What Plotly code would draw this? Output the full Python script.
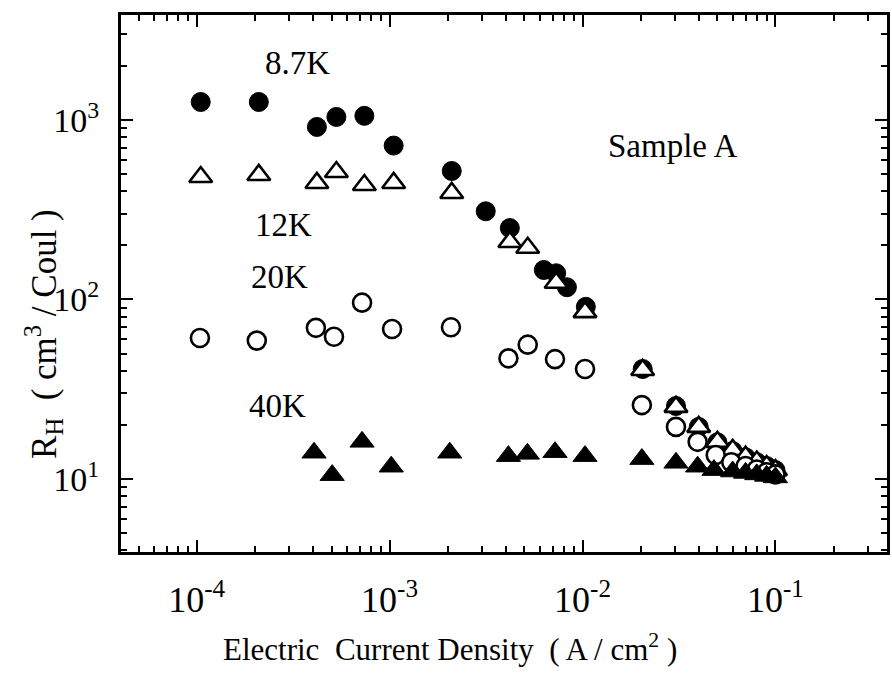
import plotly.graph_objects as go

# ---- data ----
J_87K = [1.05e-4, 2.1e-4, 4.2e-4, 5.3e-4, 7.4e-4, 1.05e-3, 2.1e-3, 3.15e-3, 4.2e-3, 6.3e-3,
         7.3e-3, 8.3e-3, 1.04e-2, 2.05e-2, 3.05e-2, 4.0e-2, 5.0e-2, 6.0e-2, 7.0e-2, 8.0e-2,
         9.0e-2, 1.0e-1]
R_87K = [1260, 1260, 915, 1040, 1055, 720, 520, 310, 250, 146,
         140, 117, 91, 41, 25.5, 19.5, 16, 14.3, 13.2, 12.4,
         11.8, 11.2]

J_12K = [1.05e-4, 2.1e-4, 4.2e-4, 5.3e-4, 7.4e-4, 1.05e-3, 2.1e-3, 4.2e-3, 5.2e-3, 7.3e-3,
         1.03e-2, 2.05e-2, 3.05e-2, 4.0e-2, 5.0e-2, 6.0e-2, 7.0e-2, 8.0e-2, 9.0e-2, 1.0e-1]
R_12K = [481, 494, 446, 513, 434, 446, 392, 209, 194, 124,
         85, 40.5, 25.2, 19.5, 16.1, 14.5, 13.3, 12.5, 11.8, 11.2]

J_20K = [1.04e-4, 2.05e-4, 4.15e-4, 5.15e-4, 7.2e-4, 1.03e-3, 2.08e-3, 4.13e-3, 5.2e-3, 7.2e-3,
         1.03e-2, 2.03e-2, 3.05e-2, 3.95e-2, 4.9e-2, 5.9e-2, 7.0e-2, 8.0e-2, 9.0e-2, 1.0e-1]
R_20K = [61, 59, 69.5, 62, 96, 68.5, 70, 47, 56, 46.5,
         41, 25.8, 19.5, 16.1, 13.6, 12.4, 11.8, 11.3, 10.9, 10.6]

J_40K = [4.06e-4, 5.04e-4, 7.2e-4, 1.02e-3, 2.05e-3, 4.13e-3, 5.18e-3, 7.2e-3, 1.03e-2,
         2.03e-2, 3.05e-2, 3.95e-2, 4.8e-2, 6.0e-2, 7.0e-2, 8.0e-2, 9.0e-2, 1.0e-1]
R_40K = [14.0, 10.5, 16.1, 11.7, 14.0, 13.4, 13.8, 14.1, 13.4,
         12.9, 12.3, 11.7, 11.2, 11.0, 10.8, 10.6, 10.4, 10.2]

x_tickvals = [1e-4, 1e-3, 1e-2, 1e-1]
x_ticktext = ["10<sup>-4</sup>", "10<sup>-3</sup>", "10<sup>-2</sup>", "10<sup>-1</sup>"]
y_tickvals = [1e1, 1e2, 1e3]
y_ticktext = ["10<sup>1</sup>", "10<sup>2</sup>", "10<sup>3</sup>"]

series_labels = ["8.7K", "12K", "20K", "40K"]

FONT = "Liberation Serif"

fig = go.Figure()
fig.add_trace(go.Scatter(x=J_87K, y=R_87K, mode="markers", name="8.7K",
                         marker=dict(symbol="circle", size=19, color="black",
                                     line=dict(color="black", width=1))))
fig.add_trace(go.Scatter(x=J_12K, y=R_12K, mode="markers", name="12K",
                         marker=dict(symbol="triangle-up", size=20, color="white",
                                     line=dict(color="black", width=2.6))))
fig.add_trace(go.Scatter(x=J_20K, y=R_20K, mode="markers", name="20K",
                         marker=dict(symbol="circle", size=18, color="white",
                                     line=dict(color="black", width=2.6))))
fig.add_trace(go.Scatter(x=J_40K, y=R_40K, mode="markers", name="40K",
                         marker=dict(symbol="triangle-up", size=21, color="black",
                                     line=dict(color="black", width=1))))

# temperature labels and sample label (positions in log10 data units)
label_pos = [(-3.479, 3.318), (-3.551, 2.415), (-3.572, 2.125), (-3.582, 1.407)]
for txt, (lx, ly) in zip(series_labels, label_pos):
    fig.add_annotation(x=lx, y=ly, xref="x", yref="y", text=txt, showarrow=False,
                       font=dict(family=FONT, size=33, color="black"))
fig.add_annotation(x=-1.532, y=2.855, xref="x", yref="y", text="Sample A", showarrow=False,
                   font=dict(family=FONT, size=33, color="black"))

# axis titles as annotations (placed in paper units derived from pixel positions)
fig.add_annotation(x=(451 - 121) / 769, y=-(647 - 552) / 537, xref="paper", yref="paper",
                   yanchor="middle",
                   text="Electric&nbsp;&nbsp;Current Density&nbsp;&nbsp;( A / cm<sup>2</sup> )",
                   showarrow=False, font=dict(family=FONT, size=31, color="black"))
fig.add_annotation(x=-(121 - 16) / 769, y=(552 - 334) / 537, xref="paper", yref="paper",
                   text="R<sub>H</sub>&nbsp;&nbsp;( cm<sup>3</sup> / Coul )", textangle=-90,
                   showarrow=False, font=dict(family=FONT, size=35, color="black"))

axis_common = dict(
    type="log", showgrid=False, zeroline=False, showline=True, linecolor="black",
    linewidth=3, mirror="allticks", ticks="inside", ticklen=12, tickwidth=2,
    tickcolor="black",
    minor=dict(ticks="inside", ticklen=6, tickwidth=2, tickcolor="black", dtick="D1",
               showgrid=False),
)

fig.update_xaxes(**axis_common, range=[-4.392, -0.422], tickvals=x_tickvals,
                 ticktext=x_ticktext, ticklabelstandoff=14,
                 tickfont=dict(family=FONT, size=36, color="black"))
fig.update_yaxes(**axis_common, range=[0.593, 3.585], tickvals=y_tickvals,
                 ticktext=y_ticktext, ticklabelstandoff=12,
                 tickfont=dict(family=FONT, size=34, color="black"))

fig.update_layout(
    width=892, height=681,
    margin=dict(l=121, r=2, t=15, b=129),
    plot_bgcolor="white", paper_bgcolor="white",
    showlegend=False,
    font=dict(family=FONT, color="black"),
)

fig.write_html("out.html")
